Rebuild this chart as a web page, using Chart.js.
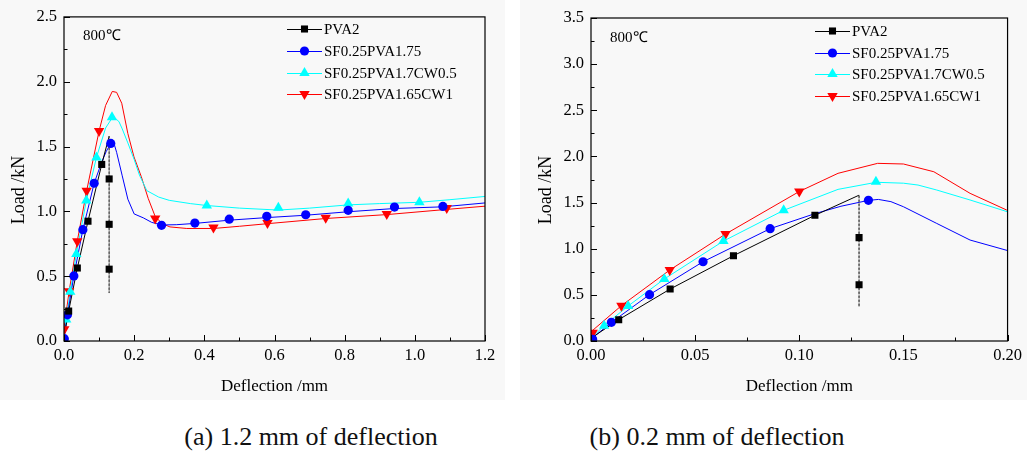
<!DOCTYPE html>
<html><head><meta charset="utf-8">
<script src="https://cdn.jsdelivr.net/npm/chart.js@4.4.1/dist/chart.umd.min.js"></script>
<style>
html,body{margin:0;padding:0;background:#fff;width:1027px;height:452px;overflow:hidden;}
.panel{position:absolute;top:0;height:400px;}
#pa{left:0;width:505px;}
#pb{left:520px;width:507px;}
.cap{position:absolute;top:423px;line-height:28px;font-family:"Liberation Serif","Times New Roman",serif;font-size:26px;color:#111;white-space:nowrap;transform:translateX(-50%);}
</style></head><body>
<div class="panel" id="pa"><canvas id="ca" width="505" height="400"></canvas></div>
<div class="panel" id="pb"><canvas id="cb" width="507" height="400"></canvas></div>
<div class="cap" style="left:311px">(a) 1.2 mm of deflection</div>
<div class="cap" style="left:717px">(b) 0.2 mm of deflection</div>
<script>
// ---------- data ----------
const seriesNames = ['PVA2','SF0.25PVA1.75','SF0.25PVA1.7CW0.5','SF0.25PVA1.65CW1'];
const seriesColors = ['#000000','#0000ff','#00ffff','#ff0000'];
const tempLabel = '800℃';

const pva2Curve = [[0,0.03],[0.0133,0.231],[0.038,0.563],[0.0684,0.924],[0.1075,1.362],[0.1287,1.58],[0.1287,1.25],[0.1287,1.12],[0.1287,0.9],[0.1287,0.61],[0.1287,0.554],[0.1287,0.37]];
const blueCurve = [[0,0.02],[0.0098,0.202],[0.0281,0.502],[0.0538,0.859],[0.086,1.217],[0.1075,1.38],[0.12,1.46],[0.1332,1.524],[0.138,1.534],[0.144,1.51],[0.150,1.455],[0.166,1.274],[0.182,1.094],[0.2,0.98],[0.226,0.95],[0.25,0.915],[0.278,0.895],[0.32,0.897],[0.373,0.907],[0.471,0.932],[0.578,0.952],[0.689,0.97],[0.81,0.997],[0.942,1.022],[1.08,1.035],[1.2,1.065]];
const cyanCurve = [[0,0.03],[0.0063,0.166],[0.0178,0.379],[0.0352,0.672],[0.0636,1.083],[0.0925,1.416],[0.1186,1.643],[0.137,1.72],[0.150,1.71],[0.157,1.69],[0.166,1.636],[0.182,1.528],[0.2,1.40],[0.215,1.28],[0.236,1.16],[0.27,1.11],[0.3,1.085],[0.36,1.06],[0.407,1.045],[0.5,1.025],[0.611,1.01],[0.7,1.025],[0.81,1.05],[0.9,1.06],[1.013,1.07],[1.1,1.09],[1.2,1.115]];
const redCurve = [[0,0.1],[0.0146,0.383],[0.0378,0.769],[0.0646,1.159],[0.1,1.62],[0.1186,1.817],[0.1376,1.925],[0.150,1.918],[0.1646,1.834],[0.182,1.60],[0.1995,1.42],[0.22,1.27],[0.24,1.10],[0.26,0.96],[0.28,0.905],[0.302,0.88],[0.35,0.868],[0.426,0.868],[0.5,0.885],[0.58,0.905],[0.746,0.945],[0.92,0.975],[1.091,1.015],[1.2,1.04]];

const pva2MarksA = [[0.0133,0.231],[0.038,0.563],[0.0684,0.924],[0.1075,1.362],[0.1287,1.25],[0.1287,0.9],[0.1287,0.554]];
const pva2MarksB = [[0.0133,0.231],[0.038,0.563],[0.0684,0.924],[0.1075,1.362],[0.1287,1.12],[0.1287,0.61]];
const blueMarks = [[0.0008,0.018],[0.0098,0.202],[0.0281,0.502],[0.0538,0.859],[0.086,1.217],[0.1332,1.524],[0.278,0.892],[0.373,0.91],[0.471,0.94],[0.578,0.962],[0.689,0.974],[0.81,1.008],[0.942,1.033],[1.08,1.038]];
const cyanMarks = [[0.0063,0.166],[0.0178,0.379],[0.0352,0.672],[0.0636,1.083],[0.0925,1.416],[0.1368,1.726],[0.407,1.046],[0.611,1.028],[0.81,1.06],[1.013,1.07]];
const redMarks = [[0.0008,0.09],[0.0146,0.383],[0.0378,0.769],[0.0646,1.159],[0.1,1.62],[0.26,0.944],[0.426,0.875],[0.58,0.91],[0.746,0.95],[0.92,0.98],[1.091,1.025]];

const xTickLabelsA = ['0.0','0.2','0.4','0.6','0.8','1.0','1.2'];
const yTickLabelsA = ['0.0','0.5','1.0','1.5','2.0','2.5'];
const xTickLabelsB = ['0.00','0.05','0.10','0.15','0.20'];
const yTickLabelsB = ['0.0','0.5','1.0','1.5','2.0','2.5','3.0','3.5'];
const xTitle = 'Deflection /mm';
const yTitle = 'Load /kN';

// ---------- helpers ----------
const SERIF = '"Liberation Serif","Times New Roman",serif';
const pts = a => a.map(p => ({x:p[0], y:p[1]}));
const markerStyles = [
  {style:'rect', r:5, rot:0},
  {style:'circle', r:4.6, rot:0},
  {style:'triangle', r:6, rot:0},
  {style:'triangle', r:6, rot:180}
];

function drawMarker(ctx, m, x, y, color){
  ctx.save();
  ctx.fillStyle = color;
  ctx.beginPath();
  if (m.style === 'rect'){
    const s = Math.SQRT1_2 * m.r;
    ctx.rect(x - s, y - s, 2*s, 2*s);
  } else if (m.style === 'circle'){
    ctx.arc(x, y, m.r, 0, Math.PI*2);
  } else {
    let rad = m.rot * Math.PI / 180;
    for (let k=0;k<3;k++){
      const px = x + Math.sin(rad)*m.r, py = y - Math.cos(rad)*m.r;
      if (k===0) ctx.moveTo(px,py); else ctx.lineTo(px,py);
      rad += 2*Math.PI/3;
    }
    ctx.closePath();
  }
  ctx.fill();
  ctx.restore();
}

const decor = {
  id:'decor',
  beforeDraw(chart){
    const ctx = chart.ctx;
    ctx.save();
    ctx.fillStyle = '#f8f8f8';
    ctx.fillRect(0,0,chart.width,chart.height);
    ctx.restore();
  },
  afterDraw(chart, args, o){
    const {ctx, chartArea:a, scales:{x,y}} = chart;
    ctx.save();
    ctx.strokeStyle = '#000';
    ctx.lineWidth = 1.2;
    ctx.strokeRect(a.left, a.top, a.right-a.left, a.bottom-a.top);
    ctx.lineWidth = 1;
    ctx.beginPath();
    const xt = x.ticks.map(t=>t.value), yt = y.ticks.map(t=>t.value);
    xt.forEach((v,i)=>{
      const px = Math.round(x.getPixelForValue(v))+0.5;
      ctx.moveTo(px,a.bottom); ctx.lineTo(px,a.bottom-6);
      if (i<xt.length-1){
        const pm = Math.round(x.getPixelForValue((v+xt[i+1])/2))+0.5;
        ctx.moveTo(pm,a.bottom); ctx.lineTo(pm,a.bottom-3.5);
      }
    });
    yt.forEach((v,i)=>{
      const py = Math.round(y.getPixelForValue(v))+0.5;
      ctx.moveTo(a.left,py); ctx.lineTo(a.left+6,py);
      if (i<yt.length-1){
        const pm = Math.round(y.getPixelForValue((v+yt[i+1])/2))+0.5;
        ctx.moveTo(a.left,pm); ctx.lineTo(a.left+3.5,pm);
      }
    });
    ctx.stroke();
    // y-axis title
    ctx.save();
    ctx.translate(o.ytx, o.yty);
    ctx.rotate(-Math.PI/2);
    ctx.fillStyle = '#000';
    ctx.font = '18px ' + SERIF;
    ctx.textAlign = 'center';
    ctx.textBaseline = 'middle';
    ctx.fillText(yTitle, 0, 0);
    ctx.restore();
    // temperature label
    ctx.fillStyle = '#000';
    ctx.font = '15px ' + SERIF;
    ctx.textBaseline = 'middle';
    ctx.textAlign = 'left';
    ctx.fillText(tempLabel, o.tx, o.ty);
    // legend
    seriesNames.forEach((name,i)=>{
      const yy = o.rows[i];
      ctx.strokeStyle = seriesColors[i];
      ctx.lineWidth = 1;
      ctx.beginPath();
      ctx.moveTo(o.lx0, yy+0.5); ctx.lineTo(o.lx1, yy+0.5);
      ctx.stroke();
      drawMarker(ctx, markerStyles[i], (o.lx0+o.lx1)/2, yy, seriesColors[i]);
      ctx.fillStyle = '#000';
      ctx.fillText(name, o.lx1+2, yy+1);
    });
    ctx.restore();
  }
};

function makeChart(id, xLabels, yLabels, marks, pad, yW, xH, decorOpts){
  const curves = [pva2Curve, blueCurve, cyanCurve, redCurve];
  const datasets = [];
  curves.forEach((c,i)=>{
    datasets.push({
      data: pts(c), showLine:true, borderColor: seriesColors[i], borderWidth:1,
      pointRadius:0, order:2, tension:0,
      segment: i===0 ? {
        borderDash: s => (s.p0.parsed.x === s.p1.parsed.x ? [2,2] : undefined),
        borderColor: s => (s.p0.parsed.x === s.p1.parsed.x ? '#555' : undefined)
      } : undefined
    });
  });
  marks.forEach((m,i)=>{
    const ms = markerStyles[i];
    datasets.push({
      data: pts(m), showLine:false, pointStyle: ms.style, pointRadius: ms.r,
      pointRotation: ms.rot, backgroundColor: seriesColors[i], borderColor: seriesColors[i],
      borderWidth:0, order:1
    });
  });
  const tickFont = {family: SERIF, size:16.5};
  return new Chart(document.getElementById(id), {
    type:'scatter',
    data:{datasets},
    plugins:[decor],
    options:{
      responsive:false, animation:false, events:[],
      layout:{padding:pad},
      plugins:{legend:{display:false}, tooltip:{enabled:false}, decor:decorOpts},
      scales:{
        x:{
          type:'linear', min:parseFloat(xLabels[0]), max:parseFloat(xLabels[xLabels.length-1]),
          grid:{display:false, drawTicks:false}, border:{display:false},
          afterBuildTicks: s => { s.ticks = xLabels.map(l=>({value:parseFloat(l)})); },
          afterFit: s => { s.height = xH; },
          ticks:{font:tickFont, color:'#000', padding:5, maxRotation:0, autoSkip:false,
                 callback:(v,i)=>xLabels[i]},
          title:{display:true, text:xTitle, color:'#000', font:{family:SERIF,size:17}, padding:{top:0,bottom:3}}
        },
        y:{
          type:'linear', min:parseFloat(yLabels[0]), max:parseFloat(yLabels[yLabels.length-1]),
          grid:{display:false, drawTicks:false}, border:{display:false},
          afterBuildTicks: s => { s.ticks = yLabels.map(l=>({value:parseFloat(l)})); },
          afterFit: s => { s.width = yW; },
          ticks:{font:tickFont, color:'#000', padding:7, autoSkip:false,
                 callback:(v,i)=>yLabels[i]},
          title:{display:false}
        }
      }
    }
  });
}

makeChart('ca', xTickLabelsA, yTickLabelsA, [pva2MarksA, blueMarks, cyanMarks, redMarks],
  {left:0, top:16, right:20, bottom:0}, 64, 59,
  {tx:83, ty:36, lx0:287, lx1:322, rows:[29,51,73,94], ytx:19, yty:190});
makeChart('cb', xTickLabelsB, yTickLabelsB, [pva2MarksB, blueMarks, cyanMarks, redMarks],
  {left:0, top:18, right:16, bottom:0}, 71, 59,
  {tx:90, ty:38, lx0:295, lx1:330, rows:[31,53,74,96], ytx:26, yty:190});
</script>
</body></html>
